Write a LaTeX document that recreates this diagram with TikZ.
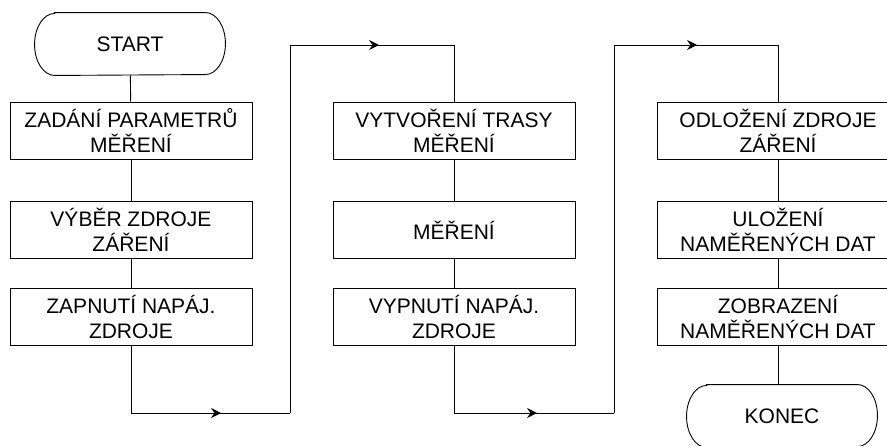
\documentclass[tikz,border=0pt]{standalone}
\usepackage{fontspec}
\setmainfont{Liberation Sans}
\usetikzlibrary{arrows.meta,decorations.markings}

\tikzset{
  every picture/.style={line width=0.9pt},
  stepbox/.style={draw, rectangle, minimum width=242pt, minimum height=57pt,
    inner sep=0pt, align=center, font=\fontsize{21}{25}\selectfont},
  termnode/.style={rectangle, minimum width=190pt, minimum height=62pt,
    inner sep=0pt, font=\fontsize{21}{25}\selectfont},
  arrowat/.style={postaction={decorate}, decoration={markings,
    mark=at position #1 with {\arrow{Stealth[length=10pt,width=10pt,inset=3.5pt]}}}},
}

% rounded terminator outline around a named node
\newcommand\termoutline[1]{%
  \draw ([xshift=20pt]#1.north west) -- ([xshift=-20pt]#1.north east)
    arc[start angle=90, end angle=-90, x radius=20pt, y radius=31pt]
    -- ([xshift=20pt]#1.south west)
    arc[start angle=270, end angle=90, x radius=20pt, y radius=31pt] -- cycle;}

\begin{document}
\begin{tikzpicture}[x=1pt, y=-1pt]
\useasboundingbox (0,0) rectangle (887,445);
\clip (0,0) rectangle (887,445);

% first column
\node[termnode] (start) at (130,44) {START};
\termoutline{start}
\node[stepbox] (a1) at (131,130.5) {ZADÁNÍ PARAMETRŮ\\MĚŘENÍ};
\node[stepbox] (a2) at (131,230) {VÝBĚR ZDROJE\\ZÁŘENÍ};
\node[stepbox] (a3) at (131,316.5) {ZAPNUTÍ NAPÁJ.\\ZDROJE};

% second column
\node[stepbox] (b1) at (454,130.5) {VYTVOŘENÍ TRASY\\MĚŘENÍ};
\node[stepbox] (b2) at (454,230) {MĚŘENÍ};
\node[stepbox] (b3) at (454,316.5) {VYPNUTÍ NAPÁJ.\\ZDROJE};

% third column
\node[stepbox] (c1) at (778,130.5) {ODLOŽENÍ ZDROJE\\ZÁŘENÍ};
\node[stepbox] (c2) at (778,230) {ULOŽENÍ\\NAMĚŘENÝCH DAT};
\node[stepbox] (c3) at (778,316.5) {ZOBRAZENÍ\\NAMĚŘENÝCH DAT};
\node[termnode] (konec) at (782,416) {KONEC};
\termoutline{konec}

% vertical links inside the columns
\draw (start) -- (a1);
\draw (a1) -- (a2);
\draw (a2) -- (a3);
\draw (b1) -- (b2);
\draw (b2) -- (b3);
\draw (c1) -- (c2);
\draw (c2) -- (c3);
\draw (c3.south) -- (c3.south |- konec.north);

% route from column 1 to column 2
\coordinate (p1) at (131,413);
\coordinate (p2) at (290,413);
\coordinate (p3) at (290,45);
\coordinate (p4) at (454,45);
\draw (a3) -- (p1);
\draw[arrowat=90pt] (p1) -- (p2);
\draw (p2) -- (p3);
\draw[arrowat=89pt] (p3) -- (p4);
\draw (p4) -- (b1);

% route from column 2 to column 3
\coordinate (q1) at (454,413);
\coordinate (q2) at (614,413);
\coordinate (q3) at (614,45);
\coordinate (q4) at (778,45);
\draw (b3) -- (q1);
\draw[arrowat=83pt] (q1) -- (q2);
\draw (q2) -- (q3);
\draw[arrowat=83pt] (q3) -- (q4);
\draw (q4) -- (c1);
\end{tikzpicture}
\end{document}
